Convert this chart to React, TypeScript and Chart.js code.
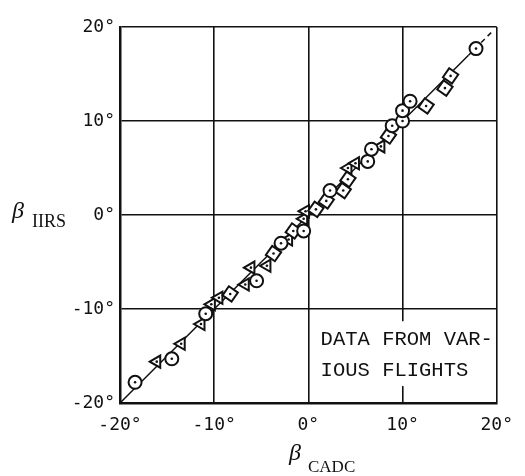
import React, { useEffect, useRef } from "react";
import { Chart, registerables } from "chart.js";

Chart.register(...registerables);

const axisTicks = [-20, -10, 0, 10, 20];

const circleX = [-18.4, -14.5, -10.9, -5.5, -2.9, -0.5, 2.3, 6.3, 6.7, 8.9, 10.0, 10.0, 10.8, 17.8];
const circleY = [-17.8, -15.3, -10.5, -7.0, -3.0, -1.7, 2.6, 5.7, 7.0, 9.5, 10.0, 11.1, 12.1, 17.7];

const squareX = [-8.3, -3.7, -1.6, 0.8, 1.9, 3.7, 4.2, 8.5, 12.5, 14.5, 15.1];
const squareY = [-8.4, -4.1, -1.7, 0.6, 1.5, 2.6, 3.8, 8.4, 11.6, 13.5, 14.8];

const triangleX = [-16.1, -13.5, -11.4, -10.3, -9.5, -6.7, -6.1, -4.4, -2.1, -0.5, -0.3, 4.2, 5.0, 7.7];
const triangleY = [-15.6, -13.7, -11.6, -9.5, -8.8, -7.4, -5.6, -5.4, -2.6, -0.4, 0.4, 5.0, 5.5, 7.3];

const fitSolidX = [-20, 17];
const fitDashX = [17, 19.6];

const noteLines = ["DATA FROM VAR-", "IOUS FLIGHTS"];
const xTitle = ["β", "CADC"];
const yTitle = ["β", "IIRS"];

const toPts = (xs: number[], ys: number[]) => xs.map((x, i) => ({ x, y: ys[i] }));

export default function App() {
  const ref = useRef<HTMLCanvasElement | null>(null);

  useEffect(() => {
    document.body.style.margin = "0";
    const canvas = ref.current!;
    const allX = [...circleX, ...squareX, ...triangleX];
    const allY = [...circleY, ...squareY, ...triangleY];

    const overlay = {
      id: "overlay",
      beforeDatasetsDraw(chart: any) {
        const ctx = chart.ctx;
        const xs = chart.scales.x;
        const ys = chart.scales.y;
        ctx.save();
        ctx.fillStyle = "#fff";
        const l = xs.getPixelForValue(1.0);
        const r = xs.getPixelForValue(19.6);
        const t = ys.getPixelForValue(-11.3);
        const b = ys.getPixelForValue(-18.2);
        ctx.fillRect(l, t, r - l, b - t);
        ctx.fillStyle = "#111";
        ctx.font = "20.5px 'Liberation Mono'";
        ctx.textBaseline = "middle";
        ctx.textAlign = "left";
        ctx.fillText(noteLines[0], xs.getPixelForValue(1.3), ys.getPixelForValue(-13.3));
        ctx.fillText(noteLines[1], xs.getPixelForValue(1.3), ys.getPixelForValue(-16.5));
        ctx.restore();
      },
      afterDraw(chart: any) {
        const ctx = chart.ctx;
        ctx.save();
        ctx.fillStyle = "#111";
        ctx.textBaseline = "middle";
        ctx.textAlign = "left";
        ctx.font = "italic 24px 'Liberation Serif'";
        ctx.fillText(yTitle[0], 12, 212);
        ctx.font = "18px 'Liberation Serif'";
        ctx.fillText(yTitle[1], 32, 222);
        ctx.font = "italic 24px 'Liberation Serif'";
        ctx.fillText(xTitle[0], 289, 454);
        ctx.font = "17px 'Liberation Serif'";
        ctx.fillText(xTitle[1], 308, 468);
        ctx.restore();
      },
    };

    const markerCommon = {
      borderColor: "#111",
      backgroundColor: "#fff",
      borderWidth: 2,
      showLine: false,
    };

    const chart = new Chart(canvas, {
      type: "scatter",
      data: {
        datasets: [
          {
            data: toPts(allX, allY),
            pointRadius: 1.3,
            pointBorderWidth: 0,
            backgroundColor: "#111",
            borderColor: "#111",
            showLine: false,
          },
          { ...markerCommon, data: toPts(circleX, circleY), pointStyle: "circle", pointRadius: 6.5 },
          { ...markerCommon, data: toPts(squareX, squareY), pointStyle: "rect", pointRadius: 7.8, rotation: 35 },
          { ...markerCommon, data: toPts(triangleX, triangleY), pointStyle: "triangle", pointRadius: 7, rotation: 270 },
          {
            data: toPts(fitSolidX, fitSolidX),
            showLine: true,
            borderColor: "#111",
            borderWidth: 1.5,
            pointRadius: 0,
          },
          {
            data: toPts(fitDashX, fitDashX),
            showLine: true,
            borderColor: "#111",
            borderWidth: 1.5,
            borderDash: [5, 4],
            pointRadius: 0,
          },
        ],
      } as any,
      options: {
        responsive: false,
        animation: false,
        events: [],
        layout: { padding: { left: 0, top: 27, right: 27, bottom: 0 } },
        plugins: { legend: { display: false }, tooltip: { enabled: false } },
        scales: {
          x: {
            min: -20,
            max: 20,
            afterFit: (s: any) => {
              s.height = 73;
            },
            afterBuildTicks: (s: any) => {
              s.ticks = axisTicks.map((v) => ({ value: v }));
            },
            grid: { color: "#111", lineWidth: 1.6, drawTicks: false },
            border: { color: "#111", width: 2.5 },
            ticks: {
              color: "#111",
              padding: 12,
              maxRotation: 0,
              font: { family: "'DejaVu Sans Mono'", size: 18 },
              callback: (v: any) => `${v}°`,
            },
          },
          y: {
            min: -20,
            max: 20,
            afterFit: (s: any) => {
              s.width = 120;
            },
            afterBuildTicks: (s: any) => {
              s.ticks = axisTicks.map((v) => ({ value: v }));
            },
            grid: { color: "#111", lineWidth: 1.6, drawTicks: false },
            border: { color: "#111", width: 2.5 },
            ticks: {
              color: "#111",
              padding: 5,
              font: { family: "'DejaVu Sans Mono'", size: 18 },
              callback: (v: any) => `${v}°`,
            },
          },
        },
      },
      plugins: [overlay],
    });
    return () => chart.destroy();
  }, []);

  return (
    <div style={{ width: 525, height: 476 }}>
      <canvas ref={ref} width={525} height={476} />
    </div>
  );
}
